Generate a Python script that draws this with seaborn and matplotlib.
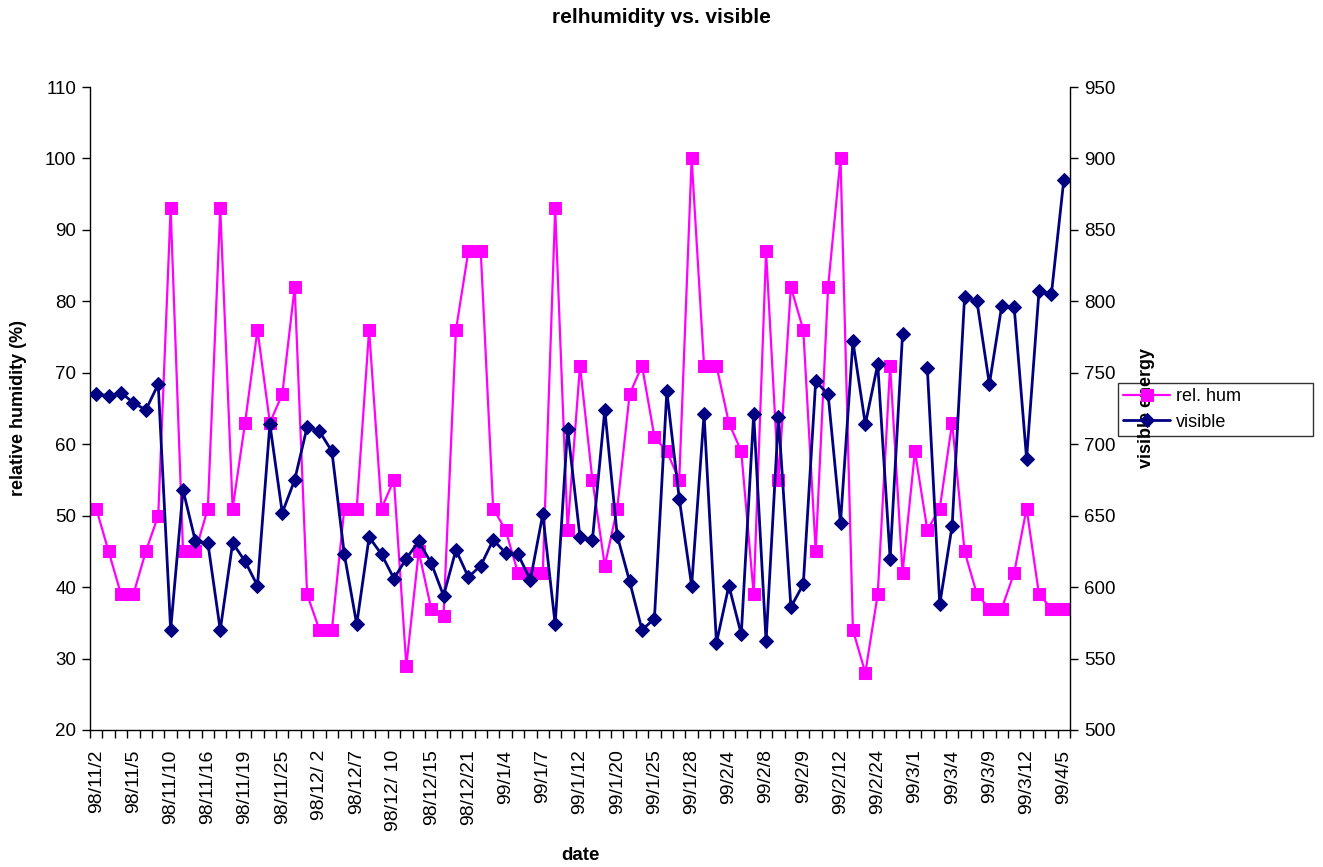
import numpy as np
import pandas as pd
import matplotlib
matplotlib.use("Agg")
import matplotlib.pyplot as plt
from matplotlib.ticker import FixedLocator, MultipleLocator
import seaborn as sns

# Relative humidity (%) per observation day
relhum = [51, 45, 39, 39, 45, 50, 93, 45, 45, 51,
          93, 51, 63, 76, 63, 67, 82, 39, 34, 34,
          51, 51, 76, 51, 55, 29, 45, 37, 36, 76,
          87, 87, 51, 48, 42, 42, 42, 93, 48, 71,
          55, 43, 51, 67, 71, 61, 59, 55, 100, 71,
          71, 63, 59, 39, 87, 55, 82, 76, 45, 82,
          100, 34, 28, 39, 71, 42, 59, 48, 51, 63,
          45, 39, 37, 37, 42, 51, 39, 37, 37]

# Visible energy per observation day (one missing reading)
visible = [735, 734, 736, 729, 724, 742, 570, 668, 632, 631,
           570, 631, 618, 601, 714, 652, 675, 712, 709, 695,
           623, 574, 635, 623, 606, 620, 632, 617, 594, 626,
           607, 615, 633, 624, 623, 605, 651, 574, 711, 635,
           633, 724, 636, 604, 570, 578, 737, 662, 601, 721,
           561, 601, 567, 721, 562, 719, 586, 602, 744, 735,
           645, 772, 714, 756, 620, 777, np.nan, 753, 588, 643,
           803, 800, 742, 797, 796, 690, 807, 805, 885]

# Date labels shown on every third category
date_labels = ["98/11/2", "98/11/5", "98/11/10", "98/11/16", "98/11/19",
               "98/11/25", "98/12/ 2", "98/12/7", "98/12/ 10", "98/12/15",
               "98/12/21", "99/1/4", "99/1/7", "99/1/12", "99/1/20",
               "99/1/25", "99/1/28", "99/2/4", "99/2/8", "99/2/9",
               "99/2/12", "99/2/24", "99/3/1", "99/3/4", "99/3/9",
               "99/3/12", "99/4/5"]
label_step = 3

n = len(relhum)
vis = np.array(visible, dtype=float)
# a missing value breaks the line into separate runs
segment = np.cumsum(np.isnan(vis))
df = pd.DataFrame({"pos": np.arange(n), "relhum": relhum,
                   "visible": vis, "segment": segment})

sns.set_style("ticks")
plt.rcParams["font.family"] = ["Liberation Sans", "DejaVu Sans"]
plt.rcParams.update({"text.color": "black", "axes.labelcolor": "black",
                     "xtick.color": "black", "ytick.color": "black",
                     "axes.edgecolor": "black"})

MAGENTA = "#FF00FF"
NAVY = "#000080"

fig = plt.figure(figsize=(13.23, 8.67), dpi=100)
ax = fig.add_axes([90 / 1323, 137 / 867, 980 / 1323, 643 / 867])
ax2 = ax.twinx()

sns.lineplot(data=df, x="pos", y="relhum", ax=ax, color=MAGENTA,
             marker="s", markersize=8, markeredgecolor=MAGENTA,
             linewidth=1.6, legend=False)
sns.lineplot(data=df.dropna(), x="pos", y="visible", units="segment",
             estimator=None, ax=ax2, color=NAVY, marker="D",
             markersize=7.5, markeredgecolor=NAVY, linewidth=2.0,
             legend=False)

ax.set_xlim(-0.5, n - 0.5)
ax.set_ylim(20, 110)
ax.yaxis.set_major_locator(MultipleLocator(10))
ax2.set_ylim(500, 950)
ax2.yaxis.set_major_locator(MultipleLocator(50))

# category labels every third point, tick marks between categories
label_pos = np.arange(0, n, label_step)
ax.xaxis.set_major_locator(FixedLocator(label_pos))
ax.set_xticklabels(date_labels, rotation=90, fontsize=14, va="top", ha="center")
ax.xaxis.set_minor_locator(FixedLocator(np.arange(-0.5, n, 1.0)))
ax.tick_params(axis="x", which="major", length=0, pad=14)
ax.tick_params(axis="x", which="minor", length=6, width=1, direction="out")
ax.tick_params(axis="y", length=6, width=1, direction="out", labelsize=13.5, pad=4)
ax2.tick_params(axis="y", length=6, width=1, direction="out", labelsize=13.5, pad=4)

for s in ["top", "right"]:
    ax.spines[s].set_visible(False)
for s in ["top", "left", "bottom"]:
    ax2.spines[s].set_visible(False)
for a in (ax, ax2):
    for s in a.spines.values():
        s.set_linewidth(1.0)

ax.set_xlabel("date", fontsize=13.5, fontweight="bold", labelpad=12)
ax.set_ylabel("relative humidity (%)", fontsize=13, fontweight="bold", labelpad=13)
ax2.set_ylabel("visible energy", fontsize=13, fontweight="bold", rotation=90, labelpad=16)
ax2.yaxis.label.set_zorder(10)

fig.suptitle("relhumidity vs. visible", x=661 / 1323, y=1 - 8 / 867,
             fontsize=15, fontweight="bold", va="top")

handles = [ax.get_lines()[0], ax2.get_lines()[0]]
leg = fig.legend(handles, ["rel. hum", "visible"], loc="upper left",
                 bbox_to_anchor=(1118 / 1323, 1 - 437 / 867, 195 / 1323, 54 / 867),
                 mode="expand", fontsize=13,
                 frameon=True, fancybox=False, edgecolor="black",
                 handlelength=2.6, handletextpad=0.3, borderpad=0.3,
                 labelspacing=0.45, borderaxespad=0)
leg.get_frame().set_linewidth(1.0)
leg.get_frame().set_facecolor("none")

fig.savefig("out.png", dpi=100, facecolor="white")
